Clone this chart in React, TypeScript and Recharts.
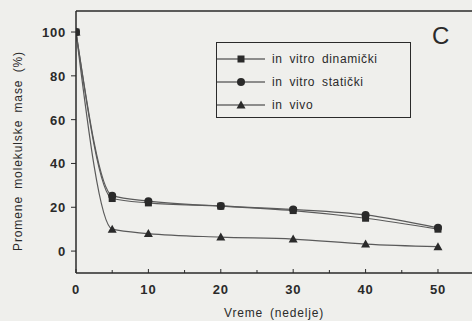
import React from 'react';
import { LineChart, Line, XAxis, YAxis, ReferenceLine } from 'recharts';

const weeks = [0, 5, 10, 20, 30, 40, 50];
const dinamicki = [100, 24, 22, 20.5, 18.5, 15, 10];
const staticki = [100, 25.3, 22.8, 20.6, 19, 16.5, 10.6];
const inVivo = [100, 10, 8, 6.4, 5.5, 3.2, 2];
const seriesNames = ['in vitro dinamički', 'in vitro statički', 'in vivo'];
const xTicks = [0, 5, 10, 15, 20, 25, 30, 35, 40, 45, 50];
const yTicks = [-10, 0, 10, 20, 30, 40, 50, 60, 70, 80, 90, 100];

const data = weeks.map((w, i) => ({ w, d: dinamicki[i], s: staticki[i], v: inVivo[i] }));

const INK = '#2a2a2a';
const LINE = '#5a5a5a';
const FONT = '"Liberation Sans", Arial, sans-serif';

const Marker = ({ kind, cx, cy }: { kind: string; cx: number; cy: number }) => {
  if (kind === 'square') return <rect x={cx - 3.5} y={cy - 3.5} width={7} height={7} fill={INK} />;
  if (kind === 'circle') return <circle cx={cx} cy={cy} r={4} fill={INK} />;
  return <polygon points={`${cx},${cy - 4.5} ${cx + 4.5},${cy + 3.5} ${cx - 4.5},${cy + 3.5}`} fill={INK} />;
};

const dotFor = (kind: string) => (p: any) => (
  <Marker key={`${kind}-${p.index}`} kind={kind} cx={p.cx} cy={p.cy} />
);

const XTick = (p: any) => {
  const v = p.payload.value;
  const major = v % 10 === 0;
  return (
    <g>
      <line x1={p.x} x2={p.x} y1={p.y - 8} y2={p.y - 8 - (major ? 4 : 3)} stroke={INK} strokeWidth={1} />
      {major && (
        <text x={p.x} y={p.y + 13} textAnchor="middle" fontSize={13} fontWeight="bold" letterSpacing={0.8} fill={INK} fontFamily={FONT}>
          {v}
        </text>
      )}
    </g>
  );
};

const YTick = (p: any) => {
  const v = p.payload.value;
  const major = v % 20 === 0 && v >= 0;
  return (
    <g>
      <line x1={p.x + 8} x2={p.x + 8 - (major ? 5 : 4)} y1={p.y} y2={p.y} stroke={INK} strokeWidth={1} />
      {major && (
        <text x={p.x - 2} y={p.y + 5} textAnchor="end" fontSize={13} fontWeight="bold" letterSpacing={0.8} fill={INK} fontFamily={FONT}>
          {v}
        </text>
      )}
    </g>
  );
};

const kinds = ['square', 'circle', 'triangle'];

const LegendBox = () => (
  <div style={{ position: 'absolute', left: 216, top: 42, border: `1.5px solid ${INK}`, width: 195, height: 76, boxSizing: 'border-box' }}>
    <svg width={192} height={73} style={{ display: 'block' }}>
      {seriesNames.map((n, i) => {
        const y = 16 + i * 23;
        return (
          <g key={n}>
            <line x1={0} x2={48} y1={y} y2={y} stroke={INK} strokeWidth={1.2} />
            <Marker kind={kinds[i]} cx={24} cy={y} />
            <text x={55} y={y + 4} fontSize={12} letterSpacing={0.6} wordSpacing={3} fill={INK} fontFamily={FONT}>{n}</text>
          </g>
        );
      })}
    </svg>
  </div>
);

export default function App() {
  return (
    <div style={{ position: 'absolute', left: 0, top: 0, width: 472, height: 321, background: '#efefec' }}>
      <LineChart width={472} height={321} data={data} margin={{ top: 11, right: 0, bottom: 0, left: 16 }}>
        <XAxis
          dataKey="w"
          type="number"
          domain={[0, 54.7]}
          ticks={xTicks}
          tick={<XTick />}
          tickLine={false}
          axisLine={{ stroke: INK, strokeWidth: 1.5 }}
          height={48}
          allowDataOverflow
          label={{ value: 'Vreme (nedelje)', position: 'insideBottom', offset: 4, dx: 0, fontSize: 12, letterSpacing: 0.8, wordSpacing: 3, fill: INK, fontFamily: FONT }}
        />
        <YAxis
          type="number"
          domain={[-10, 109.6]}
          ticks={yTicks}
          tick={<YTick />}
          tickLine={false}
          axisLine={{ stroke: INK, strokeWidth: 1.5 }}
          width={60}
          allowDataOverflow
          label={{ value: 'Promene molekulske mase (%)', angle: -90, position: 'insideLeft', offset: 0, dx: 2, dy: 9, fontSize: 12, letterSpacing: 0.9, wordSpacing: 3, fill: INK, fontFamily: FONT, style: { textAnchor: 'middle' } }}
        />
        <ReferenceLine y={109.6} stroke={INK} strokeWidth={1.5} ifOverflow="extendDomain" />
        <Line dataKey="d" name={seriesNames[0]} type="monotone" stroke={LINE} strokeWidth={1.2} dot={dotFor('square')} isAnimationActive={false} />
        <Line dataKey="s" name={seriesNames[1]} type="monotone" stroke={LINE} strokeWidth={1.2} dot={dotFor('circle')} isAnimationActive={false} />
        <Line dataKey="v" name={seriesNames[2]} type="monotone" stroke={LINE} strokeWidth={1.2} dot={dotFor('triangle')} isAnimationActive={false} />
      </LineChart>
      <LegendBox />
      <div style={{ position: 'absolute', left: 432, top: 22, fontSize: 24, lineHeight: '28px', fontFamily: FONT, color: INK }}>C</div>
    </div>
  );
}
